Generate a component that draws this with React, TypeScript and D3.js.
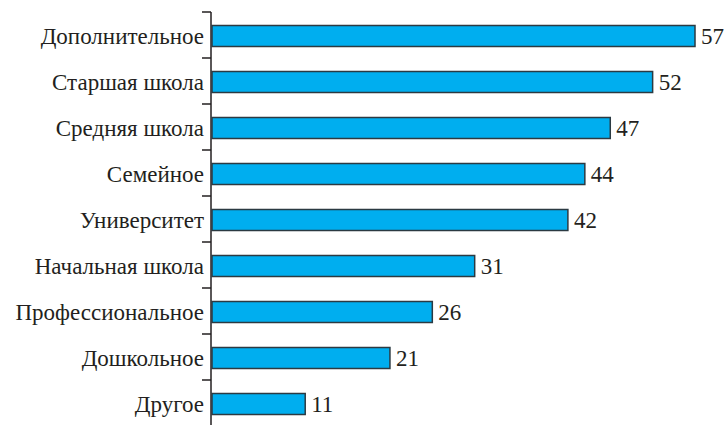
import * as React from "react"
import * as d3 from "d3"

const categories = [
  "Дополнительное",
  "Старшая школа",
  "Средняя школа",
  "Семейное",
  "Университет",
  "Начальная школа",
  "Профессиональное",
  "Дошкольное",
  "Другое",
]
const values = [57, 52, 47, 44, 42, 31, 26, 21, 11]

const width = 726
const height = 425
const margin = { top: 12, right: 20, bottom: 0, left: 211 }

export default function App() {
  const x = d3.scaleLinear().domain([0, 57]).range([margin.left + 1, 695])
  const y = d3
    .scaleBand()
    .domain(categories)
    .range([margin.top, margin.top + 46 * categories.length])
    .paddingInner(0)

  const barH = 21
  const rows = categories.map((c, i) => ({ c, v: values[i] }))

  return (
    <svg
      width={width}
      height={height}
      style={{
        position: "absolute",
        left: 0,
        top: 0,
        fontFamily: "'Tinos', 'Liberation Serif', 'Times New Roman', 'DejaVu Serif'",
      }}
    >
      {/* axis line */}
      <line
        x1={margin.left}
        x2={margin.left}
        y1={margin.top}
        y2={height}
        stroke="#231f20"
        strokeWidth={1.5}
      />
      {/* ticks at band boundaries */}
      {categories.map((c) => (
        <line
          key={"t" + c}
          x1={margin.left - 9}
          x2={margin.left}
          y1={y(c) || 0}
          y2={y(c) || 0}
          stroke="#231f20"
          strokeWidth={1.5}
        />
      ))}
      {rows.map((d) => {
        const cy = (y(d.c) || 0) + y.bandwidth() / 2 + 1
        return (
          <rect
            key={"b" + d.c}
            x={x(0)}
            y={cy - barH / 2}
            width={x(d.v) - x(0)}
            height={barH}
            fill="#00aeef"
            stroke="#2b3a42"
            strokeWidth={1.5}
          />
        )
      })}
      {rows.map((d) => {
        const cy = (y(d.c) || 0) + y.bandwidth() / 2 + 1
        return (
          <text key={"v" + d.c} x={x(d.v) + 6} y={cy + 8} fontSize={23} fill="#231f20">
            {d.v}
          </text>
        )
      })}
      {rows.map((d) => {
        const cy = (y(d.c) || 0) + y.bandwidth() / 2 + 1
        return (
          <text
            key={"l" + d.c}
            x={margin.left - 7}
            y={cy + 8}
            fontSize={23}
            textAnchor="end"
            fill="#231f20"
          >
            {d.c}
          </text>
        )
      })}
    </svg>
  )
}
